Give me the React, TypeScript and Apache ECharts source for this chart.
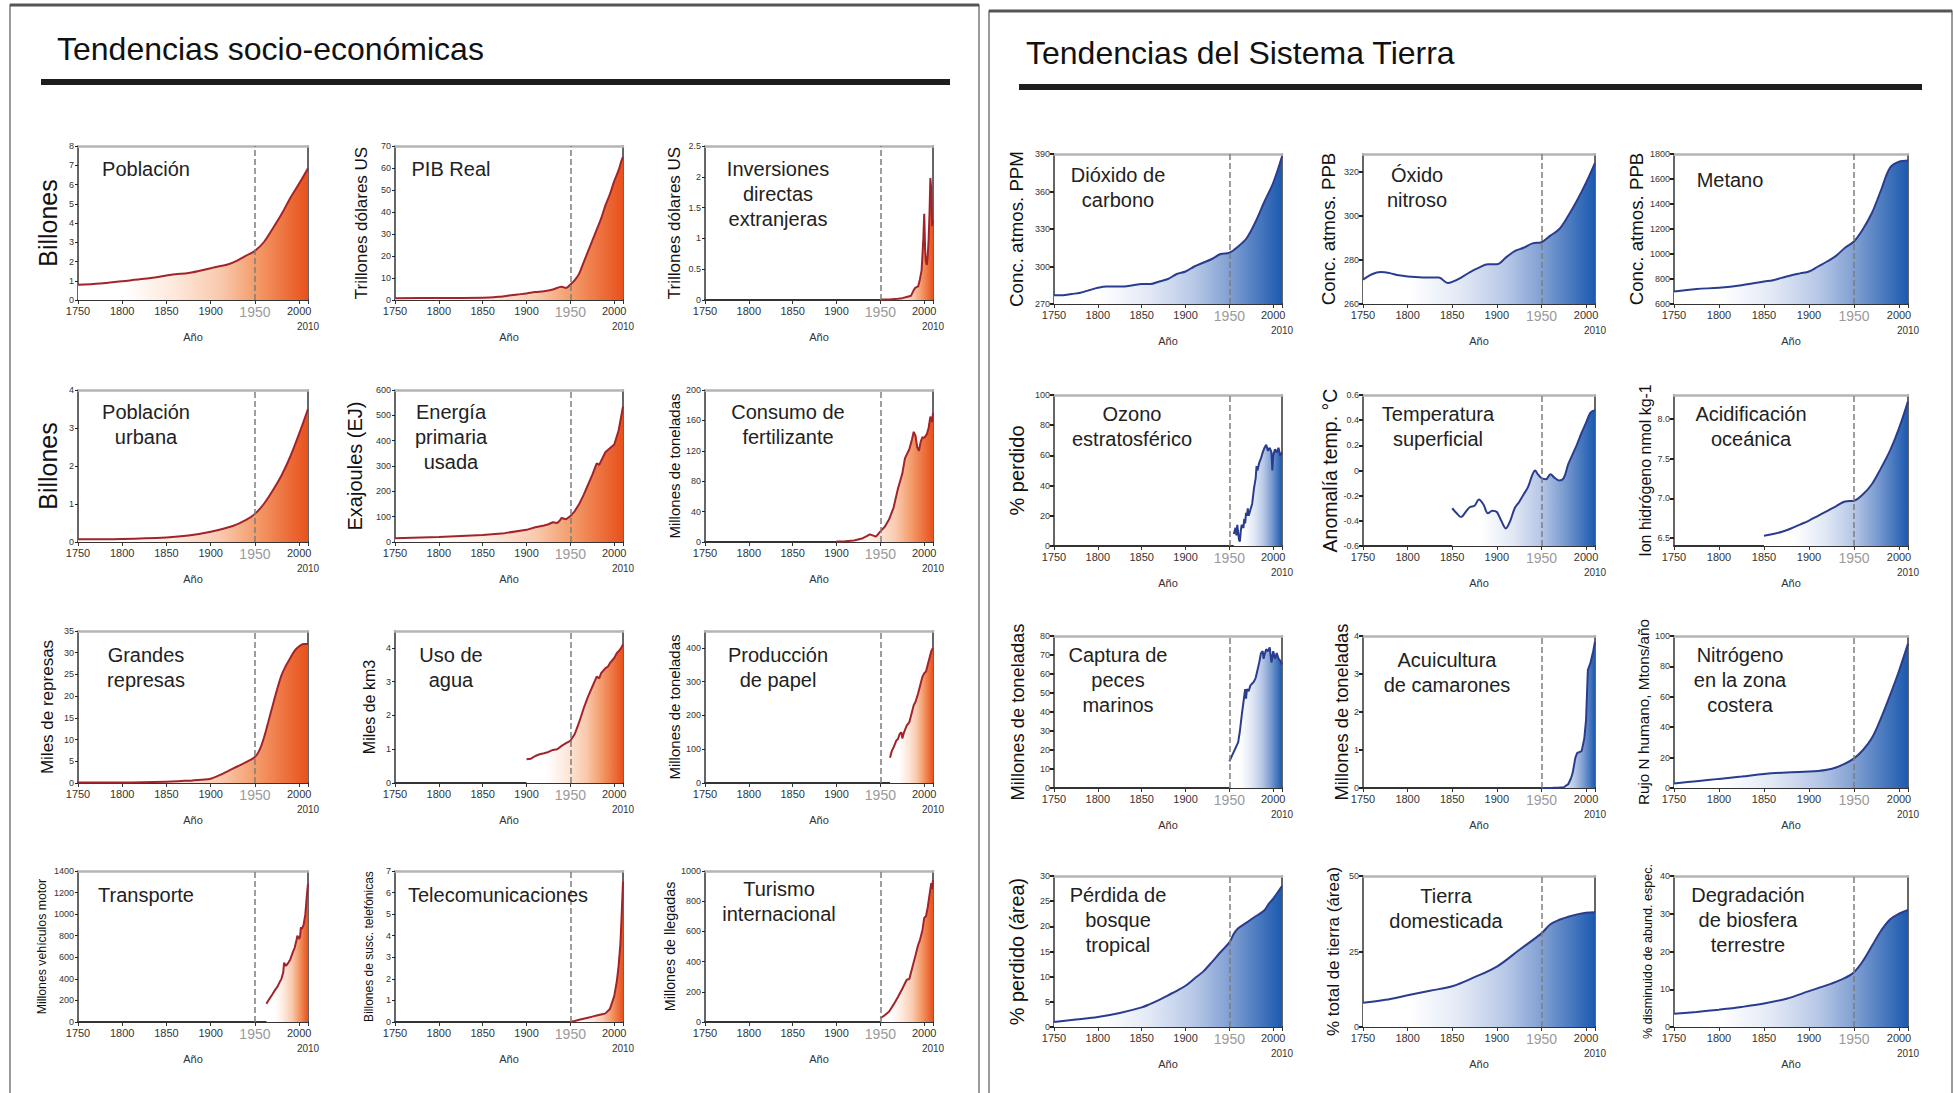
import React, { useEffect, useRef } from 'react';
import * as echarts from 'echarts';

// ---------- data (year, value) ----------
const poblacion = [[1750,0.79],[1775,0.86],[1800,0.98],[1825,1.1],[1850,1.27],[1860,1.34],[1875,1.4],[1900,1.65],[1910,1.75],[1920,1.86],[1930,2.05],[1940,2.3],[1950,2.55],[1960,3.0],[1970,3.7],[1980,4.45],[1990,5.3],[2000,6.05],[2010,6.85]];
const pib = [[1750,0.8],[1800,0.9],[1850,1.0],[1870,1.5],[1880,2.0],[1890,2.5],[1900,3.0],[1910,3.6],[1920,4.0],[1930,4.8],[1940,6.0],[1945,5.5],[1950,7.0],[1955,9.0],[1960,12],[1965,17],[1970,22],[1975,27],[1980,32],[1985,37],[1990,43],[1995,48],[2000,54],[2005,59],[2008,63],[2010,65]];
const inversiones = [[1950,0.01],[1960,0.01],[1970,0.02],[1975,0.03],[1980,0.05],[1985,0.07],[1988,0.16],[1990,0.2],[1993,0.22],[1995,0.33],[1997,0.48],[1999,1.0],[2000,1.4],[2001,0.82],[2002,0.62],[2003,0.57],[2004,0.72],[2005,0.98],[2006,1.4],[2007,1.98],[2008,1.8],[2009,1.2],[2010,1.3]];
const poblacionUrbana = [[1750,0.07],[1800,0.08],[1850,0.12],[1875,0.17],[1900,0.27],[1925,0.42],[1940,0.58],[1950,0.74],[1960,1.0],[1970,1.35],[1980,1.75],[1990,2.25],[2000,2.85],[2010,3.5]];
const energia = [[1750,15],[1800,20],[1850,28],[1875,35],[1900,48],[1910,58],[1920,65],[1925,70],[1930,78],[1935,75],[1938,85],[1940,95],[1945,90],[1950,102],[1955,122],[1960,150],[1965,185],[1970,225],[1975,265],[1980,310],[1983,305],[1985,320],[1990,355],[1995,370],[2000,385],[2005,440],[2010,535]];
const fertilizante = [[1900,0.5],[1910,1],[1920,2],[1930,5],[1935,8],[1938,10],[1945,7],[1950,14],[1955,20],[1960,30],[1965,45],[1970,70],[1975,90],[1978,110],[1980,115],[1983,122],[1986,135],[1988,145],[1990,140],[1992,125],[1994,120],[1996,132],[1998,138],[2000,137],[2003,142],[2005,150],[2007,165],[2009,158],[2010,170]];
const represas = [[1750,0.1],[1800,0.12],[1850,0.3],[1870,0.5],[1880,0.6],[1890,0.75],[1900,1.0],[1910,1.8],[1920,2.8],[1930,3.8],[1940,4.8],[1950,6.0],[1955,7.5],[1960,10.3],[1965,14],[1970,17.8],[1975,21.5],[1980,24.8],[1985,27],[1990,28.8],[1995,30.5],[2000,31.5],[2005,32],[2010,32]];
const agua = [[1900,0.7],[1905,0.72],[1910,0.8],[1915,0.85],[1920,0.88],[1925,0.92],[1930,0.98],[1935,1.0],[1940,1.1],[1945,1.18],[1950,1.25],[1955,1.45],[1960,1.8],[1965,2.2],[1970,2.55],[1975,2.85],[1980,3.15],[1983,3.1],[1985,3.25],[1990,3.4],[1993,3.45],[1995,3.55],[2000,3.7],[2003,3.85],[2005,3.9],[2008,4.0],[2010,4.1]];
const papel = [[1961,75],[1963,95],[1965,105],[1968,125],[1970,130],[1972,145],[1974,150],[1975,132],[1977,150],[1980,170],[1983,180],[1985,200],[1988,230],[1990,240],[1993,265],[1995,285],[1998,315],[2000,325],[2002,330],[2004,350],[2006,370],[2008,390],[2010,400]];
const transporte = [[1963,170],[1966,210],[1970,260],[1973,300],[1975,320],[1978,370],[1980,400],[1982,460],[1983,550],[1985,520],[1987,540],[1990,580],[1993,650],[1995,690],[1997,760],[1998,800],[2000,770],[2001,790],[2002,880],[2003,860],[2005,900],[2007,1000],[2008,1100],[2009,1200],[2010,1280]];
const telecom = [[1950,0.01],[1955,0.05],[1960,0.1],[1965,0.15],[1970,0.2],[1975,0.25],[1980,0.3],[1985,0.35],[1990,0.4],[1995,0.6],[2000,1.2],[2003,1.9],[2005,2.6],[2007,3.6],[2008,4.5],[2009,5.5],[2010,6.5]];
const turismo = [[1950,25],[1955,45],[1960,70],[1965,115],[1970,165],[1975,220],[1980,280],[1983,285],[1985,330],[1990,440],[1993,510],[1995,540],[1998,610],[2000,690],[2002,700],[2004,760],[2006,840],[2008,920],[2009,880],[2010,940]];

const co2 = [[1750,277],[1760,277],[1770,278],[1780,279],[1790,281],[1800,283],[1810,284],[1820,284],[1830,284],[1840,285],[1850,286],[1860,286],[1870,288],[1880,290],[1890,294],[1900,296],[1910,300],[1920,303],[1930,306],[1940,310],[1950,311],[1960,316],[1970,323],[1980,336],[1990,352],[2000,367],[2010,388]];
const n2o = [[1750,271],[1760,273.5],[1770,274.5],[1780,274],[1790,273],[1800,272.5],[1820,272],[1835,272],[1845,269.5],[1850,270],[1860,272],[1870,274.5],[1880,276.5],[1890,278],[1900,278],[1910,281],[1920,284],[1930,285.5],[1940,287.5],[1950,288],[1960,291],[1970,294],[1980,300],[1990,307],[2000,315],[2010,324]];
const metano = [[1750,700],[1775,720],[1800,730],[1825,750],[1850,780],[1860,790],[1875,820],[1890,845],[1900,860],[1910,900],[1920,940],[1930,985],[1940,1050],[1950,1100],[1960,1200],[1970,1330],[1980,1510],[1990,1690],[2000,1738],[2010,1748]];
const ozono = [[1955,8],[1957,12],[1958,7],[1959,14],[1960,9],[1961,4],[1962,3],[1963,10],[1964,14],[1966,12],[1967,18],[1968,15],[1969,22],[1970,20],[1971,25],[1972,20],[1974,24],[1976,28],[1978,38],[1980,45],[1981,53],[1982,50],[1984,55],[1986,58],[1988,62],[1990,65],[1992,67],[1994,63],[1996,65],[1998,62],[1999,50],[2000,60],[2002,64],[2004,62],[2006,65],[2008,60],[2010,62]];
const temperatura = [[1850,-0.3],[1855,-0.34],[1860,-0.37],[1865,-0.33],[1870,-0.29],[1875,-0.28],[1880,-0.23],[1885,-0.27],[1890,-0.34],[1895,-0.32],[1900,-0.33],[1905,-0.4],[1910,-0.46],[1915,-0.4],[1920,-0.3],[1925,-0.25],[1930,-0.19],[1935,-0.13],[1940,-0.03],[1943,0.0],[1945,-0.02],[1950,-0.06],[1955,-0.07],[1960,-0.03],[1965,-0.06],[1970,-0.08],[1975,-0.06],[1980,0.05],[1985,0.13],[1990,0.21],[1995,0.3],[2000,0.38],[2005,0.46],[2010,0.48]];
const acidificacion = [[1850,6.53],[1860,6.55],[1870,6.58],[1880,6.62],[1890,6.67],[1900,6.72],[1910,6.78],[1920,6.84],[1930,6.9],[1940,6.96],[1950,6.97],[1960,7.05],[1970,7.18],[1980,7.38],[1990,7.6],[2000,7.88],[2010,8.22]];
const peces = [[1950,14],[1955,19],[1958,22],[1960,24],[1962,30],[1964,38],[1966,45],[1968,52],[1969,47],[1970,52],[1972,51],[1974,54],[1976,55],[1978,56],[1980,58],[1982,62],[1984,66],[1986,71],[1988,72],[1989,68],[1990,70],[1992,73],[1994,72],[1996,74],[1997,70],[1998,66],[2000,72],[2002,68],[2004,71],[2006,68],[2008,67],[2010,65]];
const camarones = [[1950,0],[1960,0],[1970,0.01],[1975,0.02],[1980,0.1],[1983,0.25],[1985,0.4],[1988,0.8],[1990,0.92],[1993,0.95],[1995,0.97],[1998,1.3],[2000,1.8],[2002,3.1],[2005,3.3],[2008,3.6],[2010,3.85]];
const nitrogeno = [[1750,3],[1775,4.5],[1800,6],[1825,7.5],[1850,9.2],[1875,10.2],[1900,10.8],[1910,11.2],[1920,12],[1930,13.5],[1940,16],[1950,19.5],[1960,25],[1970,33],[1980,46],[1990,61],[2000,77],[2010,95]];
const bosque = [[1750,1],[1775,1.5],[1800,2],[1825,2.8],[1850,3.9],[1860,4.6],[1870,5.4],[1880,6.3],[1890,7.2],[1900,8.2],[1910,9.6],[1920,11],[1930,12.9],[1940,14.9],[1950,16.8],[1955,18.5],[1960,19.6],[1970,20.8],[1980,22],[1990,23.2],[1995,24.5],[2000,25.5],[2010,28]];
const tierra = [[1750,8],[1775,9],[1800,10.5],[1825,12],[1850,13.5],[1875,16.5],[1900,20],[1925,25.5],[1950,31],[1960,34],[1970,35.5],[1980,36.5],[1990,37.3],[2000,37.8],[2010,38]];
const biosfera = [[1750,3.5],[1775,4],[1800,4.6],[1825,5.3],[1850,6.2],[1875,7.5],[1900,9.5],[1910,10.3],[1925,11.5],[1940,13],[1950,14.5],[1960,17.5],[1970,21.5],[1980,25.5],[1990,28.5],[2000,30],[2010,31]];

// ---------- tick labels ----------
const yearTicks = [1750, 1800, 1850, 1900, 1950, 2000, 2010];
const t0to8 = [0, 1, 2, 3, 4, 5, 6, 7, 8];
const t0to70 = [0, 10, 20, 30, 40, 50, 60, 70];
const t0to25 = [0, 0.5, 1, 1.5, 2, 2.5];
const t0to4 = [0, 1, 2, 3, 4];
const t0to600 = [0, 100, 200, 300, 400, 500, 600];
const t0to200 = [0, 40, 80, 120, 160, 200];
const t0to35 = [0, 5, 10, 15, 20, 25, 30, 35];
const t0to400 = [0, 100, 200, 300, 400];
const t0to1400 = [0, 200, 400, 600, 800, 1000, 1200, 1400];
const t0to7 = [0, 1, 2, 3, 4, 5, 6, 7];
const t0to1000 = [0, 200, 400, 600, 800, 1000];
const tCo2 = [270, 300, 330, 360, 390];
const tN2o = [260, 280, 300, 320];
const tCh4 = [600, 800, 1000, 1200, 1400, 1600, 1800];
const t0to100 = [0, 20, 40, 60, 80, 100];
const tTemp = [-0.6, -0.4, -0.2, 0, 0.2, 0.4, 0.6];
const tAcid = [6.5, 7.0, 7.5, 8.0];
const t0to80 = [0, 10, 20, 30, 40, 50, 60, 70, 80];
const t0to30 = [0, 5, 10, 15, 20, 25, 30];
const t0to50 = [0, 25, 50];
const t0to40 = [0, 10, 20, 30, 40];

// ---------- layout ----------
const colsL = [[78, 230], [395, 228], [705, 228]];
const colsR = [[1054, 228], [1363, 232], [1674, 234]];
const rowsL = [[146, 154], [390, 152], [631, 152], [871, 151]];
const rowsR = [[154, 150], [395, 151], [636, 152], [876, 151]];

const SANS = "'Liberation Sans', Arial, sans-serif";
const NARROW = "'Liberation Sans Narrow', 'Arial Narrow', 'Liberation Sans', sans-serif";

type Panel = {
  data: number[][]; title: string; tx: number; ty: number;
  yName: string; nSize: number; nGap: number;
  min: number; max: number; ticks: number[]; fixed?: number;
  side: 'L' | 'R'; col: number; row: number; smooth: boolean;
};

const panels: Panel[] = [
  { data: poblacion, title: 'Población', tx: 146, ty: 156, yName: 'Billones', nSize: 25, nGap: 18, min: 0, max: 8, ticks: t0to8, side: 'L', col: 0, row: 0, smooth: true },
  { data: pib, title: 'PIB Real', tx: 451, ty: 156, yName: 'Trillones dólares US', nSize: 17, nGap: 25, min: 0, max: 70, ticks: t0to70, side: 'L', col: 1, row: 0, smooth: true },
  { data: inversiones, title: 'Inversiones\ndirectas\nextranjeras', tx: 778, ty: 156, yName: 'Trillones dólares US', nSize: 17, nGap: 22, min: 0, max: 2.5, ticks: t0to25, side: 'L', col: 2, row: 0, smooth: false },
  { data: poblacionUrbana, title: 'Población\nurbana', tx: 146, ty: 399, yName: 'Billones', nSize: 25, nGap: 18, min: 0, max: 4, ticks: t0to4, side: 'L', col: 0, row: 1, smooth: true },
  { data: energia, title: 'Energía\nprimaria\nusada', tx: 451, ty: 399, yName: 'Exajoules (EJ)', nSize: 20, nGap: 30, min: 0, max: 600, ticks: t0to600, side: 'L', col: 1, row: 1, smooth: false },
  { data: fertilizante, title: 'Consumo de\nfertilizante', tx: 788, ty: 399, yName: 'Millones de toneladas', nSize: 15, nGap: 23, min: 0, max: 200, ticks: t0to200, side: 'L', col: 2, row: 1, smooth: false },
  { data: represas, title: 'Grandes\nrepresas', tx: 146, ty: 642, yName: 'Miles de represas', nSize: 17, nGap: 22, min: 0, max: 35, ticks: t0to35, side: 'L', col: 0, row: 2, smooth: true },
  { data: agua, title: 'Uso de\nagua', tx: 451, ty: 642, yName: 'Miles de km3', nSize: 16, nGap: 18, min: 0, max: 4.5, ticks: t0to4, side: 'L', col: 1, row: 2, smooth: false },
  { data: papel, title: 'Producción\nde papel', tx: 778, ty: 642, yName: 'Millones de toneladas', nSize: 15, nGap: 23, min: 0, max: 450, ticks: t0to400, side: 'L', col: 2, row: 2, smooth: false },
  { data: transporte, title: 'Transporte', tx: 146, ty: 882, yName: 'Millones vehículos motor', nSize: 12.3, nGap: 30, min: 0, max: 1400, ticks: t0to1400, side: 'L', col: 0, row: 3, smooth: false },
  { data: telecom, title: 'Telecomunicaciones', tx: 498, ty: 882, yName: 'Billones de susc. telefónicas', nSize: 12, nGap: 20, min: 0, max: 7, ticks: t0to7, side: 'L', col: 1, row: 3, smooth: false },
  { data: turismo, title: 'Turismo\ninternacional', tx: 779, ty: 876, yName: 'Millones de llegadas', nSize: 14.3, nGap: 23, min: 0, max: 1000, ticks: t0to1000, side: 'L', col: 2, row: 3, smooth: false },

  { data: co2, title: 'Dióxido de\ncarbono', tx: 1118, ty: 162, yName: 'Conc. atmos. PPM', nSize: 18.7, nGap: 28, min: 270, max: 390, ticks: tCo2, side: 'R', col: 0, row: 0, smooth: true },
  { data: n2o, title: 'Óxido\nnitroso', tx: 1417, ty: 162, yName: 'Conc. atmos. PPB', nSize: 18.7, nGap: 25, min: 260, max: 328, ticks: tN2o, side: 'R', col: 1, row: 0, smooth: true },
  { data: metano, title: 'Metano', tx: 1730, ty: 167, yName: 'Conc. atmos. PPB', nSize: 18.7, nGap: 25, min: 600, max: 1800, ticks: tCh4, side: 'R', col: 2, row: 0, smooth: true },
  { data: ozono, title: 'Ozono\nestratosférico', tx: 1132, ty: 401, yName: '% perdido', nSize: 20, nGap: 27, min: 0, max: 100, ticks: t0to100, side: 'R', col: 0, row: 1, smooth: false },
  { data: temperatura, title: 'Temperatura\nsuperficial', tx: 1438, ty: 401, yName: 'Anomalía temp. °C', nSize: 19.5, nGap: 19, min: -0.6, max: 0.6, ticks: tTemp, side: 'R', col: 1, row: 1, smooth: true },
  { data: acidificacion, title: 'Acidificación\noceánica', tx: 1751, ty: 401, yName: 'Ion hidrógeno nmol kg-1', nSize: 16, nGap: 18, min: 6.4, max: 8.3, ticks: tAcid, fixed: 1, side: 'R', col: 2, row: 1, smooth: true },
  { data: peces, title: 'Captura de\npeces\nmarinos', tx: 1118, ty: 642, yName: 'Millones de toneladas', nSize: 18.3, nGap: 28, min: 0, max: 80, ticks: t0to80, side: 'R', col: 0, row: 2, smooth: false },
  { data: camarones, title: 'Acuicultura\nde camarones', tx: 1447, ty: 647, yName: 'Millones de toneladas', nSize: 18.3, nGap: 13, min: 0, max: 4, ticks: t0to4, side: 'R', col: 1, row: 2, smooth: false },
  { data: nitrogeno, title: 'Nitrógeno\nen la zona\ncostera', tx: 1740, ty: 642, yName: 'Rujo N humano, Mtons/año', nSize: 15.3, nGap: 21, min: 0, max: 100, ticks: t0to100, side: 'R', col: 2, row: 2, smooth: true },
  { data: bosque, title: 'Pérdida de\nbosque\ntropical', tx: 1118, ty: 882, yName: '% perdido (área)', nSize: 19.8, nGap: 27, min: 0, max: 30, ticks: t0to30, side: 'R', col: 0, row: 3, smooth: true },
  { data: tierra, title: 'Tierra\ndomesticada', tx: 1446, ty: 883, yName: '% total de tierra (área)', nSize: 17, nGap: 21, min: 0, max: 50, ticks: t0to50, side: 'R', col: 1, row: 3, smooth: true },
  { data: biosfera, title: 'Degradación\nde biosfera\nterrestre', tx: 1748, ty: 882, yName: '% disminuido de abund. espec.', nSize: 12.6, nGap: 20, min: 0, max: 40, ticks: t0to40, side: 'R', col: 2, row: 3, smooth: true },
];

const THEMES = {
  L: {
    line: '#a3232b',
    stops: [
      { offset: 0, color: '#ffffff' }, { offset: 0.2, color: '#ffffff' }, { offset: 0.42, color: '#fde8db' },
      { offset: 0.62, color: '#f9c9ad' }, { offset: 0.78, color: '#f39a68' }, { offset: 1, color: '#e8511c' },
    ],
  },
  R: {
    line: '#2a3c8e',
    stops: [
      { offset: 0, color: '#ffffff' }, { offset: 0.2, color: '#ffffff' }, { offset: 0.42, color: '#e2e9f5' },
      { offset: 0.62, color: '#b6c7e6' }, { offset: 0.78, color: '#7d9dd1' }, { offset: 1, color: '#1c5aaf' },
    ],
  },
};

function buildOption() {
  const grid: any[] = [];
  const xAxis: any[] = [];
  const yAxis: any[] = [];
  const series: any[] = [];
  const graphic: any[] = [];

  graphic.push(
    { type: 'rect', shape: { x: 10, y: 5, width: 969, height: 1100 }, style: { fill: 'none', stroke: '#7a7a7a', lineWidth: 1.5 } },
    { type: 'line', shape: { x1: 10, y1: 5, x2: 979, y2: 5 }, style: { stroke: '#555', lineWidth: 3 } },
    { type: 'rect', shape: { x: 989, y: 11, width: 963, height: 1100 }, style: { fill: 'none', stroke: '#7a7a7a', lineWidth: 1.5 } },
    { type: 'line', shape: { x1: 989, y1: 11, x2: 1952, y2: 11 }, style: { stroke: '#555', lineWidth: 3 } },
    { type: 'rect', shape: { x: 41, y: 79, width: 909, height: 6 }, style: { fill: '#1e1e1e' } },
    { type: 'rect', shape: { x: 1019, y: 84, width: 903, height: 6 }, style: { fill: '#1e1e1e' } },
    { type: 'text', x: 57, y: 49, style: { text: 'Tendencias socio-económicas', fontSize: 32, fontFamily: SANS, fill: '#111', textAlign: 'left', textVerticalAlign: 'middle', align: 'left', verticalAlign: 'middle' } },
    { type: 'text', x: 1026, y: 53, style: { text: 'Tendencias del Sistema Tierra', fontSize: 32, fontFamily: SANS, fill: '#111', textAlign: 'left', textVerticalAlign: 'middle', align: 'left', verticalAlign: 'middle' } },
  );

  panels.forEach((p, i) => {
    const cols = p.side === 'L' ? colsL : colsR;
    const rows = p.side === 'L' ? rowsL : rowsR;
    const [left, width] = cols[p.col];
    const [top, height] = rows[p.row];
    const theme = THEMES[p.side];
    grid.push({ left, top, width, height, containLabel: false });

    xAxis.push({
      type: 'value', gridIndex: i, min: 1750, max: 2010, position: 'bottom',
      name: 'Año', nameLocation: 'middle', nameGap: 26,
      nameTextStyle: { fontSize: 11, fontFamily: NARROW, color: '#333' },
      axisLine: { show: true, onZero: false, lineStyle: { color: '#333', width: 2 } },
      axisTick: { show: true, length: 4, customValues: yearTicks, lineStyle: { color: '#333' } },
      splitLine: { show: false },
      axisLabel: {
        customValues: yearTicks, fontSize: 11, fontFamily: NARROW, color: '#333', margin: 5,
        showMinLabel: true, showMaxLabel: true, hideOverlap: false,
        formatter: (v: number) => (v === 1950 ? '{g|1950}' : v === 2010 ? '{e|2010}' : String(v)),
        rich: {
          g: { fontSize: 14, color: '#9a9a9a', fontFamily: NARROW },
          e: { fontSize: 10, color: '#333', fontFamily: NARROW, padding: [16, 0, 0, 0] },
        },
      },
    });
    xAxis.push({
      type: 'value', gridIndex: i, min: 1750, max: 2010, position: 'top',
      axisLine: { show: true, onZero: false, lineStyle: { color: '#b5b5b5', width: 2.5 } },
      axisTick: { show: false }, axisLabel: { show: false }, splitLine: { show: false },
    });

    yAxis.push({
      type: 'value', gridIndex: i, min: p.min, max: p.max, position: 'left',
      name: p.yName, nameLocation: 'middle', nameGap: p.nGap, nameRotate: 90,
      nameTextStyle: { fontSize: p.nSize, fontFamily: SANS, color: '#111' },
      axisLine: { show: true, onZero: false, lineStyle: { color: '#333', width: 1.5 } },
      axisTick: { show: true, length: p.side === 'L' ? 3 : 4, customValues: p.ticks, lineStyle: { color: '#222', width: p.side === 'L' ? 1 : 2 } },
      splitLine: { show: false },
      axisLabel: {
        customValues: p.ticks, fontSize: 9, fontFamily: NARROW, color: '#333', margin: 4,
        formatter: (v: number) => (p.fixed ? v.toFixed(p.fixed) : String(v)),
      },
    });
    yAxis.push({
      type: 'value', gridIndex: i, min: p.min, max: p.max, position: 'right',
      axisLine: { show: true, onZero: false, lineStyle: { color: '#333', width: 1.5 } },
      axisTick: { show: false }, axisLabel: { show: false }, splitLine: { show: false },
    });

    series.push({
      type: 'line', xAxisIndex: 2 * i, yAxisIndex: 2 * i, data: p.data,
      showSymbol: false, symbol: 'none', smooth: p.smooth ? 0.35 : false,
      lineStyle: { color: theme.line, width: 2 }, itemStyle: { color: theme.line },
      areaStyle: { origin: 'start', opacity: 1, color: new echarts.graphic.LinearGradient(0, 0, 1, 0, theme.stops) },
      markLine: {
        silent: true, symbol: ['none', 'none'], label: { show: false },
        lineStyle: { type: 'dashed', color: '#7d7d7d', width: 1.5 },
        data: [{ xAxis: 1950 }],
      },
      z: 2,
    });

    graphic.push({
      type: 'text', x: p.tx, y: p.ty, z: 100,
      style: {
        text: p.title, fontSize: 20, fontFamily: NARROW, fill: '#222', lineHeight: 25,
        textAlign: 'center', textVerticalAlign: 'top', align: 'center', verticalAlign: 'top',
      },
    });
  });

  return { animation: false, backgroundColor: '#ffffff', grid, xAxis, yAxis, series, graphic };
}

export default function App() {
  const ref = useRef<HTMLDivElement>(null);
  useEffect(() => {
    if (!ref.current) return;
    const chart = echarts.init(ref.current, undefined, { renderer: 'svg' });
    chart.setOption(buildOption() as any);
    return () => chart.dispose();
  }, []);
  return (
    <div
      ref={ref}
      style={{ position: 'fixed', left: 0, top: 0, width: 1954, height: 1093, background: '#fff' }}
    />
  );
}
